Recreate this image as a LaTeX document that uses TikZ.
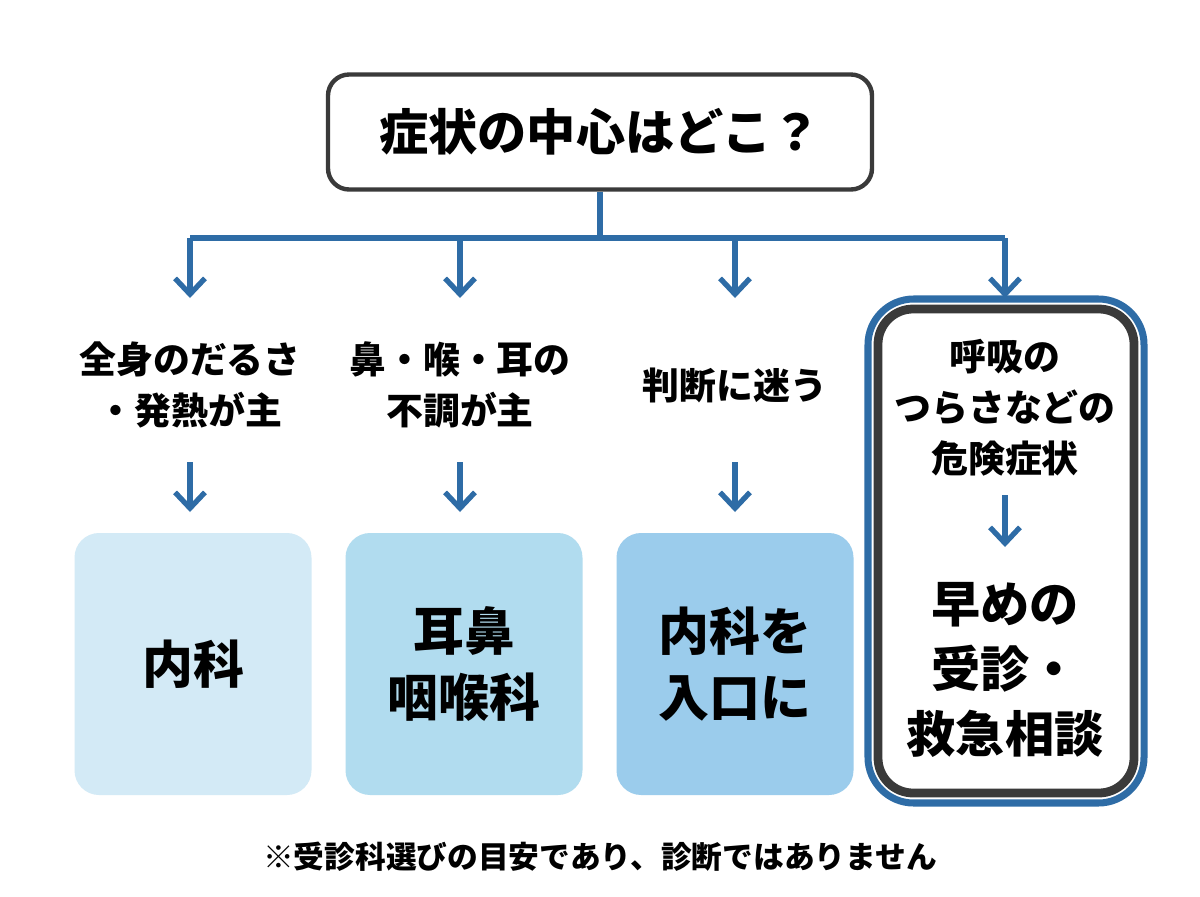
\documentclass[tikz,border=0pt]{standalone}
\usepackage{fontspec}
\setmainfont{Noto Sans CJK JP}
\usetikzlibrary{arrows.meta, positioning, calc}
\definecolor{flowblue}{HTML}{2E6CA6}
\definecolor{boxgray}{HTML}{3A3A3A}
\definecolor{fillA}{HTML}{D3EAF6}
\definecolor{fillB}{HTML}{B1DCEF}
\definecolor{fillC}{HTML}{9BCCEC}
\newcommand{\pxu}{0.02cm}
\tikzset{
  flow/.style={flowblue, line width=3pt},
  down/.style={flow, -{Straight Barb[length=9pt, width=17pt, line width=3pt]}},
  label/.style={align=center, font=\bfseries\fontsize{21}{29}\selectfont},
  dept/.style={rounded corners=14pt, minimum width=237*\pxu, minimum height=262*\pxu,
    align=center, font=\bfseries\fontsize{29}{38}\selectfont},
}
\begin{document}
\begin{tikzpicture}[x=0.02cm, y=-0.02cm]
  \useasboundingbox[fill=white] (0,0) rectangle (1200,896);

  % question box
  \node[draw=boxgray, line width=2.5pt, rounded corners=12pt, minimum width=544*\pxu,
    minimum height=115*\pxu, font=\bfseries\fontsize{28}{34}\selectfont] (q) at (600,132) {症状の中心はどこ？};

  % trunk and branches
  \coordinate (bus) at (600,238);
  \draw[flow] (q.south) -- (bus);
  \draw[flow] (190,238) -- (1005,238);
  \foreach \x/\n in {190/a, 460/b, 735/c, 1005/d} {
    \coordinate (top\n) at (\x,238);
    \coordinate (tip\n) at (\x,298);
    \draw[down] (top\n) -- (tip\n);
  }

  % symptoms
  \node[label] (sa) at (190,385) {全身のだるさ\\・発熱が主};
  \node[label] (sb) at (460,385) {鼻・喉・耳の\\不調が主};
  \node[label] (sc) at (735,385) {判断に迷う};

  % departments
  \node[dept, fill=fillA] (da) at (193,664) {内科};
  \node[dept, fill=fillB] (db) at (464,664) {耳鼻\\咽喉科};
  \node[dept, fill=fillC] (dc) at (735,664) {内科を\\入口に};

  \foreach \n in {a,b,c} {
    \coordinate (s\n1) at ($(s\n)+(0,77)$);
    \coordinate (s\n2) at ($(s\n)+(0,127)$);
    \draw[down] (s\n1) -- (s\n2);
  }

  % emergency
  \draw[flowblue, line width=4pt, rounded corners=26pt] (868,299) rectangle (1144,803);
  \node[draw=boxgray, line width=5pt, rounded corners=20pt, minimum width=256*\pxu,
    minimum height=484*\pxu] (em) at (1006,551) {};
  \node[label] (sd) at (1005,408) {呼吸の\\つらさなどの\\危険症状};
  \node[align=center, font=\bfseries\fontsize{28}{37}\selectfont] (dd) at (1005,670) {早めの\\受診・\\救急相談};
  \draw[down] (1005,495) -- (1005,547);

  % footnote
  \node[font=\bfseries\fontsize{17.5}{20}\selectfont] (note) at (600,857) {※受診科選びの目安であり、診断ではありません};
\end{tikzpicture}
\end{document}
